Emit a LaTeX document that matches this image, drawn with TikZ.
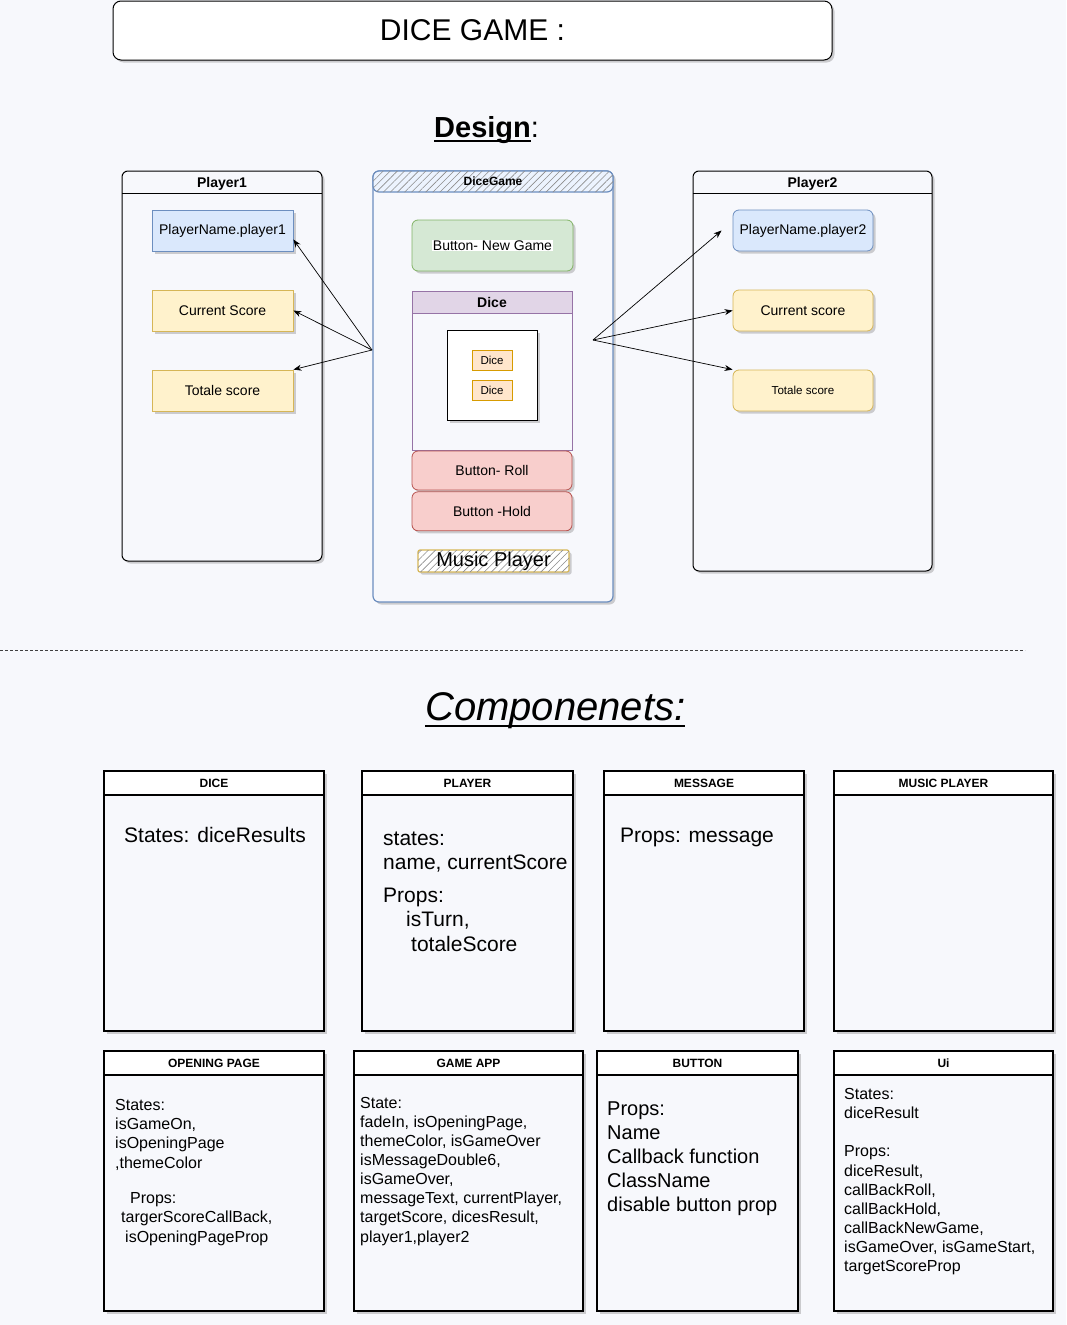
\documentclass[tikz,border=0pt]{standalone}
\usepackage{fontspec}
\setmainfont{Liberation Sans}
\usetikzlibrary{positioning,arrows.meta,shadows,patterns.meta,calc}

% colours
\definecolor{pagebg}{HTML}{F7F8FC}
\definecolor{blueFill}{HTML}{DAE8FC}
\definecolor{blueLine}{HTML}{6C8EBF}
\definecolor{yellowFill}{HTML}{FFF2CC}
\definecolor{yellowLine}{HTML}{D6B656}
\definecolor{greenFill}{HTML}{D5E8D4}
\definecolor{greenLine}{HTML}{82B366}
\definecolor{purpleFill}{HTML}{E1D5E7}
\definecolor{purpleLine}{HTML}{9673A6}
\definecolor{redFill}{HTML}{F8CECC}
\definecolor{redLine}{HTML}{B85450}
\definecolor{orangeFill}{HTML}{FFE6CC}
\definecolor{orangeLine}{HTML}{D79B00}

\newcommand{\fsz}[2]{\fontsize{#1pt}{#2pt}\selectfont}
\newcommand{\ulbar}[2]{\setbox0\hbox{#2}\rlap{\rule[-#1]{\wd0}{2.4pt}}\box0}

\tikzset{
  softshadow/.style={drop shadow={shadow xshift=2.5pt, shadow yshift=-2.5pt, opacity=0.3, fill=black!60}},
  panel/.style={draw, line width=1pt, rounded corners=6pt, fill=pagebg, softshadow},
  panelhead/.style={inner sep=0pt, minimum height=23pt, text height=10pt, text depth=0pt, anchor=north, font=\bfseries\fsz{14}{16}},
  field/.style={draw, line width=0.8pt, minimum width=141pt, minimum height=41pt, inner sep=0pt, font=\fsz{14}{16}, softshadow},
  namefield/.style={field, fill=blueFill, draw=blueLine},
  scorefield/.style={field, fill=yellowFill, draw=yellowLine},
  button/.style={draw, line width=0.8pt, rounded corners=6pt, minimum width=160pt, inner sep=0pt, font=\fsz{14}{16}, softshadow},
  hatch/.style={pattern={Lines[angle=45, distance=5pt, line width=0.6pt]}, pattern color=black!45},
  compbox/.style={draw, line width=1.2pt, fill=pagebg, minimum height=260pt, inner sep=0pt, softshadow},
  comphead/.style={draw, line width=1.2pt, fill=white, minimum height=24pt, inner sep=0pt, anchor=north, font=\bfseries\fsz{12}{14}},
  compnote/.style={anchor=north west, inner sep=0pt, align=left},
  link/.style={-{Stealth[length=8pt,width=6pt]}, line width=0.7pt},
}

\begin{document}
\begin{tikzpicture}[x=1pt, y=-1pt]
  \fill[pagebg] (0,0) rectangle (1066,1325);
  \useasboundingbox (0,0) rectangle (1066,1325);

  % headings
  \node[draw, line width=1pt, fill=white, rounded corners=8pt, minimum width=719pt, minimum height=59pt,
        softshadow, font=\fsz{30}{34}] (title) at (472.5,30.5) {DICE GAME :};
  \node[anchor=base west, inner sep=0pt, font=\fsz{29}{32}] (design) at (434,137) {\ulbar{5pt}{\textbf{Design}}:};

  % player 1
  \node[panel, minimum width=200pt, minimum height=390pt] (p1) at (222,366) {};
  \node[panelhead, minimum width=200pt] (p1head) at (p1.north) {Player1};
  \draw[line width=1pt] (p1head.south west) -- (p1head.south east);
  \node[namefield] (pn1) at (222.5,230.5) {PlayerName.player1};
  \node[scorefield] (cs1) at (222.5,310.5) {Current Score};
  \node[scorefield] (ts1) at (222.5,390.5) {Totale score};

  % dice game
  \node[panel, draw=blueLine, line width=1.2pt, minimum width=240pt, minimum height=431pt] (dg) at (493,386.5) {};
  \node[anchor=north, draw=blueLine, line width=1.2pt, rounded corners=6pt, fill=blueFill!50, postaction={hatch},
        minimum width=240pt, minimum height=21pt, inner sep=0pt, font=\bfseries\fsz{12}{14}] (dghead) at (dg.north) {DiceGame};
  \node[button, fill=greenFill, draw=greenLine, minimum width=161pt, minimum height=51pt] (newgame) at (492.5,245.5)
        {\setlength{\fboxsep}{1pt}\colorbox{white}{Button- New Game}};
  \node[draw=purpleLine, line width=0.8pt, fill=pagebg, minimum width=160pt, minimum height=159pt, inner sep=0pt] (dicebox) at (492,370.5) {};
  \node[anchor=north, draw=purpleLine, line width=0.8pt, fill=purpleFill, minimum width=160pt, minimum height=22pt,
        inner sep=0pt, font=\bfseries\fsz{14}{16}] (dicehead) at (dicebox.north) {Dice};
  \node[draw, line width=1pt, fill=white, minimum size=90pt, softshadow] (tray) at (492,375) {};
  \node[draw=orangeLine, line width=0.8pt, fill=orangeFill, minimum width=40pt, minimum height=20pt, inner sep=0pt,
        font=\fsz{11.5}{13}] (die1) at (492,360) {Dice};
  \node[draw=orangeLine, line width=0.8pt, fill=orangeFill, minimum width=40pt, minimum height=20pt, inner sep=0pt,
        font=\fsz{11.5}{13}, below=10pt of die1] (die2) {Dice};
  \node[button, fill=redFill, draw=redLine, minimum height=39pt] (roll) at (492,470.5) {Button- Roll};
  \node[button, fill=redFill, draw=redLine, minimum height=39pt, below=1pt of roll] (hold) {Button -Hold};
  \node[draw=yellowLine, line width=1.2pt, fill=white, postaction={hatch}, rounded corners=2pt, minimum width=151pt,
        minimum height=22pt, inner sep=0pt, font=\fsz{20}{22}, softshadow] (music) at (493.5,561) {Music Player};

  % player 2
  \node[panel, minimum width=239pt, minimum height=400pt] (p2) at (812.5,371) {};
  \node[panelhead, minimum width=239pt] (p2head) at (p2.north) {Player2};
  \draw[line width=1pt] (p2head.south west) -- (p2head.south east);
  \node[namefield, rounded corners=6pt, minimum width=140pt] (pn2) at (803,230.5) {PlayerName.player2};
  \node[scorefield, rounded corners=6pt, minimum width=140pt] (cs2) at (803,310.5) {Current score};
  \node[scorefield, rounded corners=6pt, minimum width=140pt, font=\fsz{11.6}{13}] (ts2) at (803,390.5) {Totale score};

  % links
  \coordinate (dgL) at (372,350);
  \coordinate (dgR) at (593,340);
  \draw[link] (dgL) -- ([yshift=-9pt]pn1.east);
  \draw[link] (dgL) -- (cs1.east);
  \draw[link] (dgL) -- (ts1.north east);
  \draw[link] (dgR) -- ([xshift=-11pt]pn2.west);
  \draw[link] (dgR) -- (cs2.west);
  \draw[link] (dgR) -- (ts2.north west);

  % separator
  \coordinate (sepL) at (0,650);
  \coordinate (sepR) at (1025,650);
  \draw[line width=0.8pt, black!75, dash pattern=on 3pt off 2pt] (sepL) -- (sepR);

  \node[anchor=base west, inner sep=0pt, font=\itshape\fsz{40}{44}] (comps) at (425,720) {\ulbar{7pt}{Componenets:}};

  % components, first row
  \node[compbox, minimum width=220pt] (cdice) at (214,901) {};
  \node[comphead, minimum width=220pt] (cdicehead) at (cdice.north) {DICE};
  \node[compbox, minimum width=211pt] (cplayer) at (467.5,901) {};
  \node[comphead, minimum width=211pt] (cplayerhead) at (cplayer.north) {PLAYER};
  \node[compbox, minimum width=200pt] (cmsg) at (704,901) {};
  \node[comphead, minimum width=200pt] (cmsghead) at (cmsg.north) {MESSAGE};
  \node[compbox, minimum width=219pt] (cmusic) at (943.5,901) {};
  \node[comphead, minimum width=219pt] (cmusichead) at (cmusic.north) {MUSIC PLAYER};

  \node[compnote, font=\fsz{21}{24.5}] (tdice) at (124,824.9) {\strut States: diceResults};
  \node[compnote, font=\fsz{21}{24.5}] (tplayer) at (383,827.9)
        {\strut states:\\ name, currentScore\\[8pt] Props:\\ \hspace*{23pt}isTurn,\\ \hspace*{28pt}totaleScore};
  \node[compnote, font=\fsz{21}{24.5}] (tmsg) at (620,824.9) {\strut Props: message};

  % components, second row
  \node[compbox, minimum width=220pt] (copen) at (214,1181) {};
  \node[comphead, minimum width=220pt] (copenhead) at (copen.north) {OPENING PAGE};
  \node[compbox, minimum width=229pt] (capp) at (468.5,1181) {};
  \node[comphead, minimum width=229pt] (capphead) at (capp.north) {GAME APP};
  \node[compbox, minimum width=201pt] (cbtn) at (697.5,1181) {};
  \node[comphead, minimum width=201pt] (cbtnhead) at (cbtn.north) {BUTTON};
  \node[compbox, minimum width=219pt] (cui) at (943.5,1181) {};
  \node[comphead, minimum width=219pt] (cuihead) at (cui.north) {Ui};

  \node[compnote, font=\fsz{16}{19.3}] (topen) at (115,1096.5)
        {\strut States:\\ isGameOn,\\ isOpeningPage\\ ,themeColor\\[16pt] \hspace*{15pt}Props:\\
         \hspace*{6pt}targerScoreCallBack,\\ \hspace*{10pt}isOpeningPageProp};
  \node[compnote, font=\fsz{16}{19.1}] (tapp) at (360,1094.8)
        {\strut State:\\ fadeIn, isOpeningPage,\\ themeColor, isGameOver\\ isMessageDouble6,\\ isGameOver,\\
         messageText, currentPlayer,\\ targetScore, dicesResult,\\ player1,player2};
  \node[compnote, font=\fsz{20}{24}] (tbtn) at (607,1098)
        {\strut Props:\\ Name\\ Callback function\\ ClassName\\ disable button prop};
  \node[compnote, font=\fsz{16}{19.1}] (tui) at (844,1086.2)
        {\strut States:\\ diceResult\\[19pt] Props:\\ diceResult,\\ callBackRoll,\\ callBackHold,\\ callBackNewGame,\\
         isGameOver, isGameStart,\\ targetScoreProp};
\end{tikzpicture}
\end{document}
